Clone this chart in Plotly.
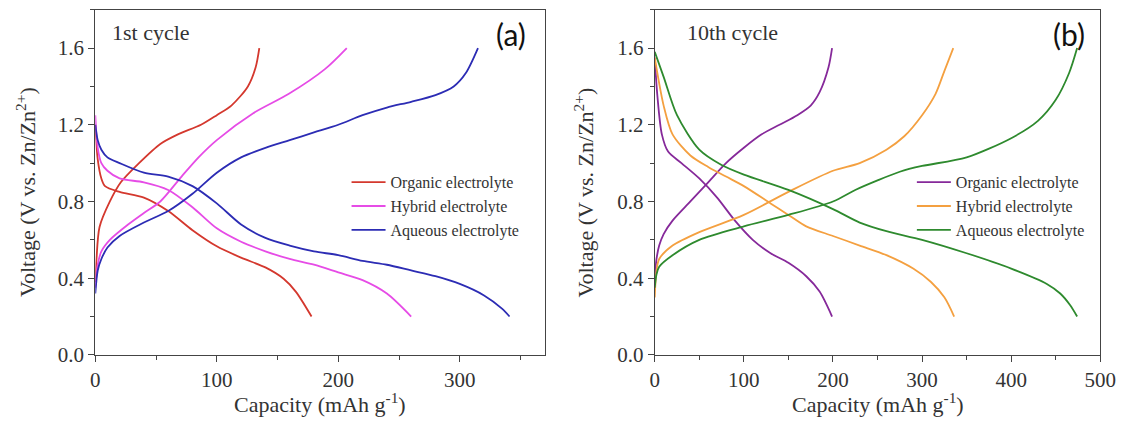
import plotly.graph_objects as go

# ---- 1st cycle: charge (rising) and discharge (falling) profiles ----
a_org_chg_x = [0, 1, 3.5, 12, 21, 36, 53.5, 68, 87, 100, 112, 125.6, 132, 135]
a_org_chg_y = [0.38, 0.5, 0.667, 0.8, 0.9, 1.0, 1.1, 1.15, 1.2, 1.25, 1.3, 1.4, 1.5, 1.6]
a_org_dis_x = [0, 2, 5, 8, 20, 40, 60, 80, 100, 120, 140, 155, 165, 178]
a_org_dis_y = [1.2, 1.02, 0.92, 0.88, 0.85, 0.82, 0.75, 0.65, 0.566, 0.507, 0.456, 0.397, 0.33, 0.2]

a_hyb_chg_x = [0, 2, 5, 12, 27, 40, 53.5, 71, 85, 100, 130, 159, 189, 207]
a_hyb_chg_y = [0.35, 0.47, 0.54, 0.6, 0.68, 0.74, 0.8, 0.93, 1.03, 1.12, 1.26, 1.36, 1.49, 1.6]
a_hyb_dis_x = [0, 2, 5, 10, 20, 40, 60, 80, 100, 120, 140, 160, 180, 200, 220, 240, 260]
a_hyb_dis_y = [1.25, 1.08, 1.0, 0.96, 0.92, 0.9, 0.86, 0.77, 0.66, 0.59, 0.54, 0.5, 0.47, 0.43, 0.39, 0.32, 0.2]

a_aq_chg_x = [0, 2, 5, 10, 20, 40, 60, 80, 100, 120, 140, 160, 180, 200, 220, 240, 260, 280, 295, 305, 315]
a_aq_chg_y = [0.32, 0.44, 0.5, 0.56, 0.62, 0.69, 0.75, 0.84, 0.95, 1.03, 1.08, 1.12, 1.16, 1.2, 1.25, 1.29, 1.32, 1.355, 1.4, 1.47, 1.6]
a_aq_dis_x = [0, 2, 5, 10, 20, 40, 60, 80, 100, 120, 140, 160, 180, 200, 220, 240, 260, 280, 300, 320, 335, 341]
a_aq_dis_y = [1.2, 1.12, 1.07, 1.03, 1.0, 0.95, 0.93, 0.88, 0.79, 0.68, 0.61, 0.57, 0.54, 0.52, 0.49, 0.47, 0.44, 0.41, 0.37, 0.31, 0.24, 0.2]

# ---- 10th cycle ----
b_org_chg_x = [0, 2, 5, 10, 20, 40, 60, 80, 100, 120, 140, 160, 175, 185, 195, 199]
b_org_chg_y = [0.4, 0.5, 0.57, 0.63, 0.7, 0.8, 0.9, 1.0, 1.08, 1.15, 1.2, 1.25, 1.3, 1.37, 1.5, 1.6]
b_org_dis_x = [0, 3, 8, 15, 30, 50, 70, 90, 110, 130, 150, 170, 185, 199]
b_org_dis_y = [1.55, 1.35, 1.15, 1.06, 1.0, 0.92, 0.82, 0.7, 0.6, 0.53, 0.48, 0.41, 0.33, 0.2]

b_hyb_chg_x = [0, 2, 5, 20, 50, 100, 150, 200, 230, 260, 280, 300, 315, 325, 335]
b_hyb_chg_y = [0.3, 0.44, 0.5, 0.57, 0.64, 0.73, 0.85, 0.96, 1.0, 1.07, 1.14, 1.25, 1.36, 1.48, 1.6]
b_hyb_dis_x = [0, 10, 20, 40, 60, 80, 100, 130, 150, 170, 200, 230, 260, 290, 310, 325, 336]
b_hyb_dis_y = [1.55, 1.3, 1.15, 1.04, 0.98, 0.93, 0.88, 0.79, 0.73, 0.67, 0.62, 0.57, 0.52, 0.45, 0.38, 0.3, 0.2]

b_aq_chg_x = [0, 2, 5, 20, 50, 100, 150, 200, 225, 250, 275, 300, 350, 400, 430, 450, 465, 474]
b_aq_chg_y = [0.35, 0.42, 0.46, 0.52, 0.6, 0.67, 0.73, 0.8, 0.86, 0.91, 0.955, 0.985, 1.03, 1.13, 1.22, 1.33, 1.47, 1.6]
b_aq_dis_x = [0, 10, 25, 50, 75, 100, 150, 200, 230, 260, 300, 350, 400, 440, 455, 466, 474]
b_aq_dis_y = [1.58, 1.45, 1.25, 1.07, 0.99, 0.94, 0.86, 0.76, 0.69, 0.645, 0.6, 0.53, 0.45, 0.37, 0.32, 0.26, 0.2]

names = ["Organic electrolyte", "Hybrid electrolyte", "Aqueous electrolyte"]
colors_a = ["#d4382e", "#e64ce6", "#2c2cb4"]
colors_b = ["#86299a", "#f4a040", "#2e8a2e"]

curves_a = [
    (a_org_chg_x, a_org_chg_y, a_org_dis_x, a_org_dis_y),
    (a_hyb_chg_x, a_hyb_chg_y, a_hyb_dis_x, a_hyb_dis_y),
    (a_aq_chg_x, a_aq_chg_y, a_aq_dis_x, a_aq_dis_y),
]
curves_b = [
    (b_org_chg_x, b_org_chg_y, b_org_dis_x, b_org_dis_y),
    (b_hyb_chg_x, b_hyb_chg_y, b_hyb_dis_x, b_hyb_dis_y),
    (b_aq_chg_x, b_aq_chg_y, b_aq_dis_x, b_aq_dis_y),
]

SERIF = "Liberation Serif"
W, H = 1133, 432

fig = go.Figure()


def add_panel(curves, colors, xa, ya, legend):
    for name, col, (cx, cy, dx, dy) in zip(names, colors, curves):
        fig.add_trace(go.Scatter(
            x=cx, y=cy, mode="lines", line=dict(color=col, width=1.8, shape="spline", smoothing=0.8),
            name=name, legend=legend, showlegend=True, xaxis=xa, yaxis=ya))
        fig.add_trace(go.Scatter(
            x=dx, y=dy, mode="lines", line=dict(color=col, width=1.8, shape="spline", smoothing=0.8),
            name=name, legend=legend, showlegend=False, xaxis=xa, yaxis=ya))


add_panel(curves_a, colors_a, "x", "y", "legend")
add_panel(curves_b, colors_b, "x2", "y2", "legend2")

# plot-area placement in pixels
ax_a = (92, 550)
ax_b = (662, 1116)
y_top, y_bot = 10, 365
ydom = [1 - y_bot / H, 1 - y_top / H]

axis_common = dict(
    showline=True, linecolor="#444", linewidth=1.3, mirror=True,
    ticks="outside", ticklen=6, tickwidth=1.2, tickcolor="#444",
    showgrid=False, zeroline=False, ticklabeloverflow="allow",
    tickfont=dict(family=SERIF, size=21, color="#333"),
)
minor_common = dict(ticks="outside", ticklen=4, tickwidth=1, tickcolor="#444", showgrid=False)

legend_common = dict(
    xanchor="left", yanchor="top",
    font=dict(family=SERIF, size=16, color="#333"), bgcolor="rgba(0,0,0,0)",
    tracegroupgap=0, itemwidth=34,
)

fig.update_layout(
    width=W, height=H,
    margin=dict(l=0, r=0, t=0, b=0),
    paper_bgcolor="white", plot_bgcolor="white",
    font=dict(family=SERIF, color="#333"),
    xaxis=dict(domain=[ax_a[0] / W, ax_a[1] / W], range=[0, 370], dtick=100, tick0=0,
               minor=dict(dtick=50, **minor_common), anchor="y", **axis_common),
    yaxis=dict(domain=ydom, range=[0, 1.8], dtick=0.4, tick0=0, tickformat=".1f",
               minor=dict(dtick=0.2, **minor_common), anchor="x", **axis_common),
    xaxis2=dict(domain=[ax_b[0] / W, ax_b[1] / W], range=[0, 500], dtick=100, tick0=0,
                minor=dict(dtick=50, **minor_common), anchor="y2", **axis_common),
    yaxis2=dict(domain=ydom, range=[0, 1.8], dtick=0.4, tick0=0, tickformat=".1f",
                minor=dict(dtick=0.2, **minor_common), anchor="x2", **axis_common),
    legend=dict(x=348 / W, y=1 - 170 / H, **legend_common),
    legend2=dict(x=924 / W, y=1 - 170 / H, **legend_common),
    showlegend=True,
)

ytitle = "Voltage (V vs. Zn/Zn<sup>2+</sup>)"
xtitle = "Capacity (mAh g<sup>-1</sup>)"
title_font = dict(family=SERIF, size=22, color="#333")

for cx, ycx, cyc_label, cyc_x, panel_label, pl_x in [
    ((ax_a[0] + ax_a[1]) / 2, 22, "1st cycle", 107, "(a)", 533),
    ((ax_b[0] + ax_b[1]) / 2, 590, "10th cycle", 693, "(b)", 1102),
]:
    fig.add_annotation(x=ycx / W, y=1 - 198 / H, xref="paper", yref="paper",
                       text=ytitle, textangle=-90, showarrow=False, font=title_font,
                       xanchor="center", yanchor="middle")
    fig.add_annotation(x=cx / W, y=1 - 414 / H, xref="paper", yref="paper",
                       text=xtitle, showarrow=False, font=title_font,
                       xanchor="center", yanchor="middle")
    fig.add_annotation(x=cyc_x / W, y=1 - 33 / H, xref="paper", yref="paper",
                       text=cyc_label, showarrow=False,
                       font=dict(family=SERIF, size=22, color="#333"),
                       xanchor="left", yanchor="middle")
    fig.add_annotation(x=pl_x / W, y=1 - 35 / H, xref="paper", yref="paper",
                       text=panel_label, showarrow=False,
                       font=dict(family="Lato", size=30, color="#111"),
                       xanchor="right", yanchor="middle")

fig.write_html("out.html")
